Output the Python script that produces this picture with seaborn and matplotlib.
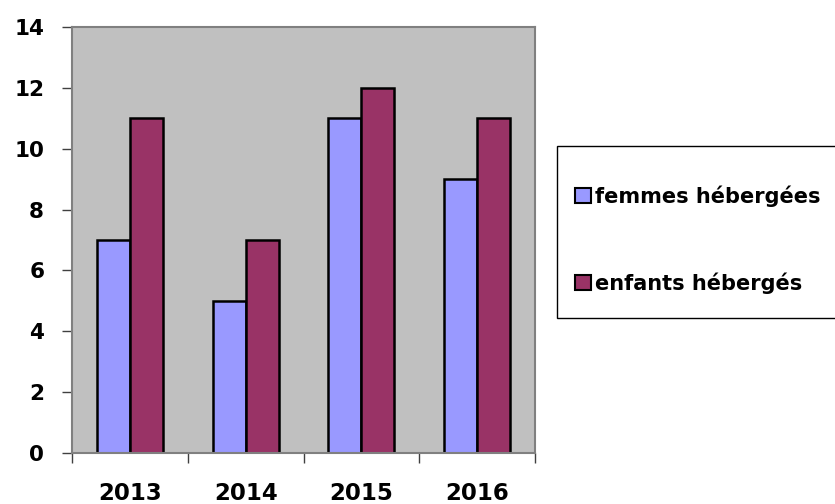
import pandas as pd
import matplotlib.pyplot as plt
import matplotlib.patches as mpatches
import seaborn as sns

years = ["2013", "2014", "2015", "2016"]
femmes = [7, 5, 11, 9]
enfants = [11, 7, 12, 11]
series_names = ["femmes hébergées", "enfants hébergés"]
colors = ["#9999ff", "#993366"]

df = pd.DataFrame({
    "annee": years * 2,
    "valeur": femmes + enfants,
    "serie": [series_names[0]] * len(years) + [series_names[1]] * len(years),
})

sns.set_style("white")
plt.rcParams["font.family"] = ["DejaVu Sans"]
plt.rcParams["font.weight"] = "bold"
plt.rcParams["text.color"] = "black"
plt.rcParams["xtick.labelcolor"] = "black"
plt.rcParams["ytick.labelcolor"] = "black"

fig = plt.figure(figsize=(8.35, 5.04), dpi=100)
ax = fig.add_axes([72/835, 51/504, 463/835, 426/504])

sns.barplot(data=df, x="annee", y="valeur", hue="serie", palette=colors,
            width=0.57, edgecolor="black", linewidth=1.8, ax=ax,
            legend=False, saturation=1)

ax.set_facecolor("#c0c0c0")
ax.set_xlim(-0.5, 3.5)
ax.set_ylim(0, 14)
ax.set_yticks(range(0, 15, 2))
ax.set_xlabel("")
ax.set_ylabel("")

for s in ax.spines.values():
    s.set_color("#808080")
    s.set_linewidth(1.5)

ax.tick_params(axis="y", length=7, width=1, color="#404040", pad=13,
               labelsize=15.5, left=True, labelcolor="black")
ax.tick_params(axis="x", which="major", length=0, pad=21, labelsize=16.5,
               labelcolor="black")
ax.set_xticks([-0.5, 0.5, 1.5, 2.5, 3.5], minor=True)
ax.tick_params(axis="x", which="minor", length=7, width=1, color="#404040",
               bottom=True)
for lab in ax.get_xticklabels() + ax.get_yticklabels():
    lab.set_fontweight("bold")

# legend box (runs past the right edge like in the original)
frame = mpatches.Rectangle((557/835, (504-318)/504), 300/835, 172/504,
                           transform=fig.transFigure, facecolor="white",
                           edgecolor="black", linewidth=1, clip_on=False)
fig.patches.append(frame)
handles = [mpatches.Patch(facecolor=c, edgecolor="black", linewidth=1.5)
           for c in colors]
fig.legend(handles, series_names, loc="upper left",
           bbox_to_anchor=(565/835, (504-175)/504), frameon=False,
           prop={"size": 15, "weight": "bold"}, labelspacing=3.15,
           handlelength=0.75, handleheight=0.75, handletextpad=0.2,
           borderpad=0, labelcolor="black")

fig.savefig("out.png", dpi=100)
